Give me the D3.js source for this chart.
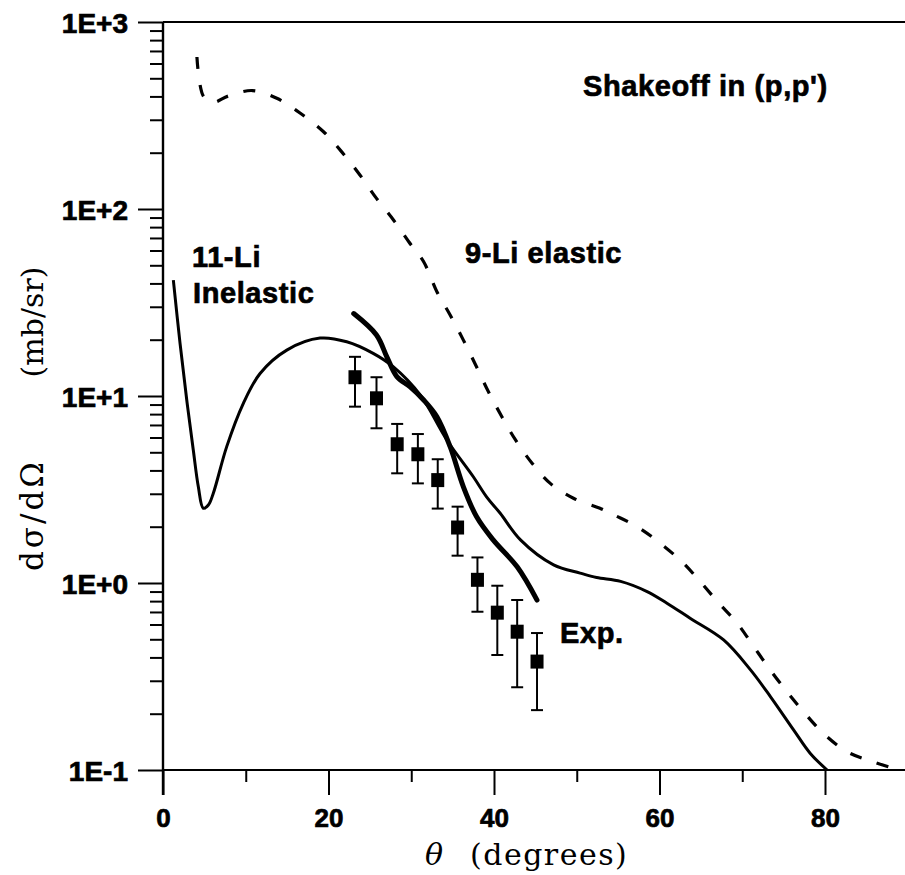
<!DOCTYPE html>
<html>
<head>
<meta charset="utf-8">
<script src="https://cdn.jsdelivr.net/npm/d3@7"></script>
<style>
  html, body { margin: 0; padding: 0; background: #fff; }
  svg { display: block; }
  .lbl { font-family: "Liberation Sans", Arial, sans-serif; font-weight: bold; fill: #000; stroke: #000; stroke-width: 0.7; }
  .serif { font-family: "DejaVu Serif", serif; fill: #000; }
</style>
</head>
<body>
<div id="chart"></div>
<script>
// 11-Li inelastic (thin solid)
const inelTheta = [1.25, 2.06, 2.87, 3.66, 4.27, 4.87, 5.48, 6.08, 7.70, 9.71, 11.73, 14.96, 18.98, 22.2, 25.4, 27.85, 31.1, 34.3, 37.5, 39.1, 40.75, 43.2, 47.2, 50.4, 52.4, 55.3, 58.5, 60.9, 63.7, 67.75, 71.0, 73.4, 76.2, 78.2, 80.25];
const inelSigma = [41.7, 19.1, 9.52, 5.14, 3.27, 2.51, 2.61, 3.02, 5.36, 9.14, 13.2, 17.6, 20.4, 19.5, 16.9, 14.3, 10.1, 5.82, 3.70, 2.89, 2.36, 1.70, 1.25, 1.13, 1.07, 1.02, 0.90, 0.78, 0.648, 0.496, 0.343, 0.247, 0.164, 0.123, 0.100];

// shakeoff curve (thick solid)
const shakeTheta = [23.05, 25.8, 27.05, 28.26, 29.87, 31.5, 33.1, 34.7, 36.3, 37.9, 39.9, 42.8, 45.2];
const shakeSigma = [27.6, 21.2, 16.2, 12.7, 11.2, 9.52, 7.75, 5.36, 3.27, 2.26, 1.70, 1.22, 0.81];

// 9-Li elastic (dashed)
const elTheta = [4.1, 4.9, 6.05, 7.9, 10.8, 13.75, 16.6, 19.4, 21.6, 23.8, 25.8, 27.85, 29.7, 31.5, 33.1, 34.7, 36.3, 37.9, 39.3, 40.95, 42.6, 44.6, 46.8, 49.6, 52.8, 54.5, 57.3, 60.1, 62.7, 64.9, 67.1, 69.4, 71.4, 73.4, 75.4, 77.4, 79.8, 82.7, 85.7, 88.6];
const elSigma = [650, 400, 372, 402, 430, 391, 325, 259, 202, 152, 114, 87.4, 66.8, 52.2, 36.1, 27.1, 19.9, 14.3, 10.6, 7.75, 5.82, 4.37, 3.41, 2.84, 2.51, 2.31, 2.00, 1.63, 1.30, 1.02, 0.787, 0.609, 0.456, 0.342, 0.262, 0.205, 0.157, 0.125, 0.111, 0.101];

// experiment
const expTheta = [23.2, 25.8, 28.3, 30.8, 33.2, 35.6, 38.0, 40.4, 42.8, 45.2];
const expSigma = [12.6, 9.72, 5.52, 4.88, 3.55, 1.98, 1.04, 0.694, 0.549, 0.380];
const expHigh  = [16.2, 12.6, 7.09, 6.26, 4.59, 2.56, 1.37, 0.967, 0.811, 0.540];
const expLow   = [8.77, 6.72, 3.86, 3.41, 2.50, 1.40, 0.702, 0.412, 0.277, 0.209];

// ticks
const yMajor = [0.1, 1, 10, 100, 1000];
const yLabels = ['1E-1', '1E+0', '1E+1', '1E+2', '1E+3'];
const xMajor = [0, 20, 40, 60, 80];
const xMinor = [10, 30, 50, 70, 90];

const W = 905, H = 875;

const svg = d3.select('#chart').append('svg')
  .attr('width', W).attr('height', H);

const x = d3.scaleLinear().domain([0, 90]).range([163, 907.75]);
const y = d3.scaleLog().domain([0.1, 1000]).range([770, 22]);

// minor y ticks
const yMinor = [];
[0.1, 1, 10, 100].forEach(dec => {
  for (let k = 2; k <= 9; k++) yMinor.push(dec * k);
});

// y axis
const yAx = svg.append('g')
  .attr('transform', `translate(${x(0)},0)`)
  .call(d3.axisLeft(y).tickValues(yMajor).tickSize(25).tickSizeOuter(0)
    .tickPadding(10).tickFormat((d, i) => yLabels[i]));
yAx.select('.domain').remove();
yAx.selectAll('text').attr('class', 'lbl').attr('font-size', 28).attr('dy', '0.36em');

svg.append('g')
  .attr('transform', `translate(${x(0)},0)`)
  .call(d3.axisLeft(y).tickValues(yMinor).tickSize(13).tickSizeOuter(0).tickFormat(''))
  .select('.domain').remove();

// x axis
const xAx = svg.append('g')
  .attr('transform', `translate(0,${y(0.1)})`)
  .call(d3.axisBottom(x).tickValues(xMajor).tickSize(25).tickSizeOuter(0).tickPadding(14));
xAx.select('.domain').remove();
xAx.selectAll('text').attr('class', 'lbl').attr('font-size', 26);

svg.append('g')
  .attr('transform', `translate(0,${y(0.1)})`)
  .call(d3.axisBottom(x).tickValues(xMinor).tickSize(12).tickSizeOuter(0).tickFormat(''))
  .select('.domain').remove();

svg.selectAll('.tick line').attr('stroke', '#000').attr('stroke-width', 2);

// frame lines
svg.append('line')
  .attr('x1', x(0)).attr('x2', x(0))
  .attr('y1', y(1000)).attr('y2', y(0.1) + 25)
  .attr('stroke', '#000').attr('stroke-width', 2.4);
svg.append('line')
  .attr('x1', x(0)).attr('x2', W)
  .attr('y1', y(0.1)).attr('y2', y(0.1))
  .attr('stroke', '#000').attr('stroke-width', 2);
svg.append('line')
  .attr('x1', x(0)).attr('x2', W)
  .attr('y1', y(1000)).attr('y2', y(1000))
  .attr('stroke', '#000').attr('stroke-width', 2);

// curves
const line = d3.line()
  .x(d => x(d[0])).y(d => y(d[1]))
  .curve(d3.curveCatmullRom.alpha(0.5));

svg.append('path')
  .datum(elTheta.map((t, i) => [t, elSigma[i]]))
  .attr('d', line)
  .attr('fill', 'none').attr('stroke', '#000')
  .attr('stroke-width', 3.2).attr('stroke-dasharray', '12,16');

svg.append('path')
  .datum(inelTheta.map((t, i) => [t, inelSigma[i]]))
  .attr('d', line)
  .attr('fill', 'none').attr('stroke', '#000')
  .attr('stroke-width', 3);

svg.append('path')
  .datum(shakeTheta.map((t, i) => [t, shakeSigma[i]]))
  .attr('d', line)
  .attr('fill', 'none').attr('stroke', '#000')
  .attr('stroke-width', 5).attr('stroke-linecap', 'round');

// experimental points with error bars
const pts = svg.selectAll('.pt')
  .data(expTheta.map((t, i) => ({ t, v: expSigma[i], lo: expLow[i], hi: expHigh[i] })))
  .enter().append('g').attr('class', 'pt');

pts.append('line')
  .attr('x1', d => x(d.t)).attr('x2', d => x(d.t))
  .attr('y1', d => y(d.hi)).attr('y2', d => y(d.lo))
  .attr('stroke', '#000').attr('stroke-width', 2);
pts.append('line')
  .attr('x1', d => x(d.t) - 6).attr('x2', d => x(d.t) + 6)
  .attr('y1', d => y(d.hi)).attr('y2', d => y(d.hi))
  .attr('stroke', '#000').attr('stroke-width', 2);
pts.append('line')
  .attr('x1', d => x(d.t) - 6).attr('x2', d => x(d.t) + 6)
  .attr('y1', d => y(d.lo)).attr('y2', d => y(d.lo))
  .attr('stroke', '#000').attr('stroke-width', 2);
pts.append('rect')
  .attr('x', d => x(d.t) - 6.5).attr('y', d => y(d.v) - 7)
  .attr('width', 13).attr('height', 14)
  .attr('fill', '#000');

// annotations
const notes = [
  { text: "Shakeoff in (p,p')", x: 583, y: 96 },
  { text: '9-Li elastic', x: 465, y: 263 },
  { text: '11-Li', x: 192, y: 267 },
  { text: 'Inelastic', x: 193, y: 303 },
  { text: 'Exp.', x: 560, y: 643 }
];
svg.selectAll('.note')
  .data(notes).enter().append('text')
  .attr('class', 'lbl')
  .attr('x', d => d.x).attr('y', d => d.y)
  .attr('font-size', 29)
  .attr('letter-spacing', 0.6)
  .text(d => d.text);

// axis titles
svg.append('text')
  .attr('class', 'serif')
  .attr('transform', 'translate(43,515) rotate(-90)')
  .attr('text-anchor', 'middle')
  .attr('font-size', 31)
  .attr('letter-spacing', 3)
  .text('dσ/dΩ');
svg.append('text')
  .attr('class', 'serif')
  .attr('transform', 'translate(43,322) rotate(-90)')
  .attr('text-anchor', 'middle')
  .attr('font-size', 30)
  .text('(mb/sr)');

svg.append('text')
  .attr('class', 'serif')
  .attr('x', 425).attr('y', 865)
  .attr('font-size', 30).attr('font-style', 'italic')
  .text('θ');
svg.append('text')
  .attr('class', 'serif')
  .attr('x', 470).attr('y', 865)
  .attr('font-size', 30).attr('letter-spacing', 1.5)
  .text('(degrees)');
</script>
</body>
</html>
